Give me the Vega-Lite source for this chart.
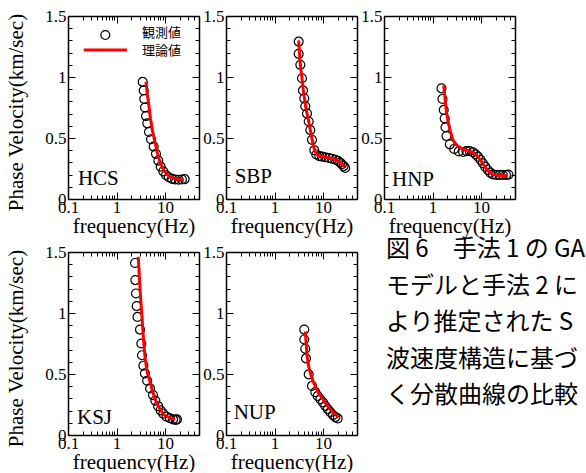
{
  "$schema": "https://vega.github.io/schema/vega-lite/v6.json",
  "padding": {"left": 5, "top": 7, "right": 0, "bottom": 0},
  "autosize": {"type": "pad"},
  "bounds": "flush",
  "columns": 3,
  "spacing": {"row": 53, "column": 27},
  "config": {
    "view": {"stroke": null},
    "axis": {
      "labelFont": "Liberation Serif", "labelFontSize": 17, "labelColor": "black",
      "titleFont": "Liberation Serif", "titleFontSize": 21, "titleFontWeight": "normal", "titleColor": "black",
      "domainColor": "black", "domainWidth": 1.5, "tickColor": "black", "tickWidth": 1,
      "grid": false, "labelFlush": false, "labelOverlap": false
    }
  },
  "datasets": {
    "obs": [
      {"site": "HCS", "f": 3.46, "v": 0.96}, {"site": "HCS", "f": 3.63, "v": 0.89}, {"site": "HCS", "f": 3.73, "v": 0.82}, {"site": "HCS", "f": 3.86, "v": 0.75}, {"site": "HCS", "f": 4.05, "v": 0.68}, {"site": "HCS", "f": 4.3, "v": 0.62}, {"site": "HCS", "f": 4.67, "v": 0.55}, {"site": "HCS", "f": 5.13, "v": 0.49}, {"site": "HCS", "f": 5.83, "v": 0.43}, {"site": "HCS", "f": 6.5, "v": 0.37}, {"site": "HCS", "f": 7.25, "v": 0.315}, {"site": "HCS", "f": 8.12, "v": 0.265}, {"site": "HCS", "f": 9.19, "v": 0.227}, {"site": "HCS", "f": 10.4, "v": 0.197}, {"site": "HCS", "f": 11.9, "v": 0.178}, {"site": "HCS", "f": 13.9, "v": 0.165}, {"site": "HCS", "f": 16.2, "v": 0.16}, {"site": "HCS", "f": 19.1, "v": 0.158}, {"site": "HCS", "f": 22.3, "v": 0.16}, {"site": "HCS", "f": 25.4, "v": 0.163},
      {"site": "SBP", "f": 3.14, "v": 1.29}, {"site": "SBP", "f": 3.14, "v": 1.19}, {"site": "SBP", "f": 3.4, "v": 1.1}, {"site": "SBP", "f": 3.68, "v": 0.99}, {"site": "SBP", "f": 3.86, "v": 0.89}, {"site": "SBP", "f": 4.1, "v": 0.825}, {"site": "SBP", "f": 4.3, "v": 0.76}, {"site": "SBP", "f": 4.67, "v": 0.7}, {"site": "SBP", "f": 5.06, "v": 0.635}, {"site": "SBP", "f": 5.46, "v": 0.565}, {"site": "SBP", "f": 5.91, "v": 0.485}, {"site": "SBP", "f": 6.59, "v": 0.4}, {"site": "SBP", "f": 7.26, "v": 0.365}, {"site": "SBP", "f": 8.36, "v": 0.352}, {"site": "SBP", "f": 9.5, "v": 0.347}, {"site": "SBP", "f": 11.1, "v": 0.342}, {"site": "SBP", "f": 13.1, "v": 0.336}, {"site": "SBP", "f": 15.3, "v": 0.33}, {"site": "SBP", "f": 17.9, "v": 0.322}, {"site": "SBP", "f": 20.3, "v": 0.312}, {"site": "SBP", "f": 22.6, "v": 0.298}, {"site": "SBP", "f": 24.5, "v": 0.285}, {"site": "SBP", "f": 26.5, "v": 0.27}, {"site": "SBP", "f": 28.5, "v": 0.255},
      {"site": "HNP", "f": 1.53, "v": 0.907}, {"site": "HNP", "f": 1.6, "v": 0.82}, {"site": "HNP", "f": 1.7, "v": 0.73}, {"site": "HNP", "f": 1.78, "v": 0.66}, {"site": "HNP", "f": 1.85, "v": 0.588}, {"site": "HNP", "f": 1.94, "v": 0.516}, {"site": "HNP", "f": 2.27, "v": 0.448}, {"site": "HNP", "f": 2.79, "v": 0.41}, {"site": "HNP", "f": 3.47, "v": 0.39}, {"site": "HNP", "f": 4.27, "v": 0.385}, {"site": "HNP", "f": 4.98, "v": 0.393}, {"site": "HNP", "f": 5.82, "v": 0.393}, {"site": "HNP", "f": 6.83, "v": 0.383}, {"site": "HNP", "f": 7.72, "v": 0.366}, {"site": "HNP", "f": 8.64, "v": 0.347}, {"site": "HNP", "f": 9.77, "v": 0.32}, {"site": "HNP", "f": 10.9, "v": 0.293}, {"site": "HNP", "f": 12.2, "v": 0.265}, {"site": "HNP", "f": 13.8, "v": 0.238}, {"site": "HNP", "f": 15.4, "v": 0.216}, {"site": "HNP", "f": 17.5, "v": 0.202}, {"site": "HNP", "f": 20.5, "v": 0.197}, {"site": "HNP", "f": 23.9, "v": 0.197}, {"site": "HNP", "f": 28, "v": 0.197}, {"site": "HNP", "f": 32.7, "v": 0.197}, {"site": "HNP", "f": 36.5, "v": 0.2},
      {"site": "KSJ", "f": 2.4, "v": 1.41}, {"site": "KSJ", "f": 2.44, "v": 1.27}, {"site": "KSJ", "f": 2.52, "v": 1.16}, {"site": "KSJ", "f": 2.6, "v": 1.057}, {"site": "KSJ", "f": 2.7, "v": 0.968}, {"site": "KSJ", "f": 3.04, "v": 0.864}, {"site": "KSJ", "f": 3.24, "v": 0.75}, {"site": "KSJ", "f": 3.34, "v": 0.654}, {"site": "KSJ", "f": 3.57, "v": 0.568}, {"site": "KSJ", "f": 3.85, "v": 0.505}, {"site": "KSJ", "f": 4.27, "v": 0.445}, {"site": "KSJ", "f": 4.9, "v": 0.382}, {"site": "KSJ", "f": 5.65, "v": 0.327}, {"site": "KSJ", "f": 6.3, "v": 0.282}, {"site": "KSJ", "f": 7.2, "v": 0.236}, {"site": "KSJ", "f": 8.1, "v": 0.202}, {"site": "KSJ", "f": 9.2, "v": 0.175}, {"site": "KSJ", "f": 10.7, "v": 0.15}, {"site": "KSJ", "f": 12.6, "v": 0.137}, {"site": "KSJ", "f": 14.6, "v": 0.128}, {"site": "KSJ", "f": 16.5, "v": 0.124}, {"site": "KSJ", "f": 17.6, "v": 0.128},
      {"site": "NUP", "f": 4.1, "v": 0.864}, {"site": "NUP", "f": 4.1, "v": 0.783}, {"site": "NUP", "f": 4.3, "v": 0.707}, {"site": "NUP", "f": 4.45, "v": 0.628}, {"site": "NUP", "f": 5.06, "v": 0.497}, {"site": "NUP", "f": 5.91, "v": 0.402}, {"site": "NUP", "f": 6.92, "v": 0.351}, {"site": "NUP", "f": 7.74, "v": 0.32}, {"site": "NUP", "f": 8.77, "v": 0.293}, {"site": "NUP", "f": 9.96, "v": 0.267}, {"site": "NUP", "f": 11.1, "v": 0.239}, {"site": "NUP", "f": 12.5, "v": 0.212}, {"site": "NUP", "f": 14.1, "v": 0.187}, {"site": "NUP", "f": 16, "v": 0.163}, {"site": "NUP", "f": 17.9, "v": 0.147}, {"site": "NUP", "f": 20, "v": 0.136}
    ],
    "theory": [
      {"site": "HCS", "f": 4.05, "v": 0.96}, {"site": "HCS", "f": 4.3, "v": 0.86}, {"site": "HCS", "f": 4.6, "v": 0.78}, {"site": "HCS", "f": 5.0, "v": 0.66}, {"site": "HCS", "f": 5.5, "v": 0.56}, {"site": "HCS", "f": 6.0, "v": 0.49}, {"site": "HCS", "f": 6.5, "v": 0.43}, {"site": "HCS", "f": 7.0, "v": 0.37}, {"site": "HCS", "f": 7.5, "v": 0.33}, {"site": "HCS", "f": 8.0, "v": 0.3}, {"site": "HCS", "f": 9.0, "v": 0.25}, {"site": "HCS", "f": 10, "v": 0.22}, {"site": "HCS", "f": 11, "v": 0.2}, {"site": "HCS", "f": 12, "v": 0.19}, {"site": "HCS", "f": 14, "v": 0.175}, {"site": "HCS", "f": 17, "v": 0.165}, {"site": "HCS", "f": 20, "v": 0.16}, {"site": "HCS", "f": 23, "v": 0.158},
      {"site": "SBP", "f": 3.14, "v": 1.3}, {"site": "SBP", "f": 3.4, "v": 1.1}, {"site": "SBP", "f": 3.7, "v": 0.98}, {"site": "SBP", "f": 4.0, "v": 0.86}, {"site": "SBP", "f": 4.5, "v": 0.73}, {"site": "SBP", "f": 5.0, "v": 0.645}, {"site": "SBP", "f": 5.5, "v": 0.56}, {"site": "SBP", "f": 6.0, "v": 0.48}, {"site": "SBP", "f": 6.5, "v": 0.42}, {"site": "SBP", "f": 7.0, "v": 0.38}, {"site": "SBP", "f": 7.5, "v": 0.365}, {"site": "SBP", "f": 8.5, "v": 0.354}, {"site": "SBP", "f": 10, "v": 0.347}, {"site": "SBP", "f": 13, "v": 0.338}, {"site": "SBP", "f": 16, "v": 0.33}, {"site": "SBP", "f": 19, "v": 0.32}, {"site": "SBP", "f": 22, "v": 0.3}, {"site": "SBP", "f": 25, "v": 0.285}, {"site": "SBP", "f": 28, "v": 0.262},
      {"site": "HNP", "f": 1.7, "v": 0.93}, {"site": "HNP", "f": 1.8, "v": 0.83}, {"site": "HNP", "f": 1.94, "v": 0.71}, {"site": "HNP", "f": 2.1, "v": 0.63}, {"site": "HNP", "f": 2.27, "v": 0.57}, {"site": "HNP", "f": 2.6, "v": 0.49}, {"site": "HNP", "f": 3.0, "v": 0.45}, {"site": "HNP", "f": 3.4, "v": 0.43}, {"site": "HNP", "f": 4.0, "v": 0.415}, {"site": "HNP", "f": 5.0, "v": 0.4}, {"site": "HNP", "f": 6.3, "v": 0.385}, {"site": "HNP", "f": 8.0, "v": 0.36}, {"site": "HNP", "f": 9.0, "v": 0.335}, {"site": "HNP", "f": 10.1, "v": 0.31}, {"site": "HNP", "f": 11.5, "v": 0.275}, {"site": "HNP", "f": 12.8, "v": 0.25}, {"site": "HNP", "f": 14.5, "v": 0.225}, {"site": "HNP", "f": 16.2, "v": 0.21}, {"site": "HNP", "f": 19, "v": 0.2}, {"site": "HNP", "f": 22, "v": 0.195}, {"site": "HNP", "f": 28, "v": 0.192}, {"site": "HNP", "f": 36, "v": 0.19},
      {"site": "KSJ", "f": 2.8, "v": 1.46}, {"site": "KSJ", "f": 2.95, "v": 1.3}, {"site": "KSJ", "f": 3.1, "v": 1.15}, {"site": "KSJ", "f": 3.34, "v": 0.97}, {"site": "KSJ", "f": 3.6, "v": 0.78}, {"site": "KSJ", "f": 3.9, "v": 0.62}, {"site": "KSJ", "f": 4.3, "v": 0.51}, {"site": "KSJ", "f": 4.96, "v": 0.43}, {"site": "KSJ", "f": 5.5, "v": 0.36}, {"site": "KSJ", "f": 6.3, "v": 0.29}, {"site": "KSJ", "f": 7.2, "v": 0.235}, {"site": "KSJ", "f": 8.7, "v": 0.185}, {"site": "KSJ", "f": 10, "v": 0.16}, {"site": "KSJ", "f": 11.9, "v": 0.144}, {"site": "KSJ", "f": 14, "v": 0.135}, {"site": "KSJ", "f": 16.2, "v": 0.13},
      {"site": "NUP", "f": 4.3, "v": 0.85}, {"site": "NUP", "f": 4.67, "v": 0.65}, {"site": "NUP", "f": 5.0, "v": 0.57}, {"site": "NUP", "f": 5.46, "v": 0.51}, {"site": "NUP", "f": 6.2, "v": 0.44}, {"site": "NUP", "f": 6.92, "v": 0.4}, {"site": "NUP", "f": 8.0, "v": 0.345}, {"site": "NUP", "f": 9.5, "v": 0.305}, {"site": "NUP", "f": 11, "v": 0.265}, {"site": "NUP", "f": 13.1, "v": 0.226}, {"site": "NUP", "f": 15.5, "v": 0.195}, {"site": "NUP", "f": 17.9, "v": 0.171}, {"site": "NUP", "f": 20.9, "v": 0.144}
    ],
    "caption": [
      {"line": 0, "text": "図 6　手法 1 の GA"},
      {"line": 1, "text": "モデルと手法 2 に"},
      {"line": 2, "text": "より推定された S"},
      {"line": 3, "text": "波速度構造に基づ"},
      {"line": 4, "text": "く分散曲線の比較"}
    ]
  },
  "concat": [
    {
      "width": 131, "height": 183,
      "resolve": {"axis": {"x": "independent", "y": "independent"}},
      "layer": [
        {
          "data": {"name": "obs"},
          "transform": [{"filter": "datum.site === 'HCS'"}],
          "mark": {"type": "point", "shape": "circle", "filled": false, "color": "black", "strokeWidth": 1.2, "size": 80, "opacity": 1},
          "encoding": {
            "x": {"field": "f", "type": "quantitative", "scale": {"type": "log", "domain": [0.1, 50], "nice": false},
              "axis": {"orient": "top", "values": [0.1,0.2,0.3,0.4,0.5,0.6,0.7,0.8,0.9,1,2,3,4,5,6,7,8,9,10,20,30,40,50], "tickSize": {"condition": {"test": "datum.value == 0.1 || datum.value == 1 || datum.value == 10", "value": -7}, "value": -4}, "labels": false, "title": null}},
            "y": {"field": "v", "type": "quantitative", "scale": {"domain": [0, 1.5], "nice": false},
              "axis": {"orient": "right", "values": [0,0.1,0.2,0.3,0.4,0.5,0.6,0.7,0.8,0.9,1,1.1,1.2,1.3,1.4,1.5], "tickSize": {"condition": {"test": "datum.value == 0 || datum.value == 0.5 || datum.value == 1 || datum.value == 1.5", "value": -7}, "value": -4}, "labels": false, "title": null}}
          }
        },
        {
          "data": {"name": "theory"},
          "transform": [{"filter": "datum.site === 'HCS'"}],
          "mark": {"type": "line", "color": "#ff0000", "strokeWidth": 3},
          "encoding": {
            "x": {"field": "f", "type": "quantitative",
              "axis": {"orient": "bottom", "values": [0.1,0.2,0.3,0.4,0.5,0.6,0.7,0.8,0.9,1,2,3,4,5,6,7,8,9,10,20,30,40,50], "tickSize": {"condition": {"test": "datum.value == 0.1 || datum.value == 1 || datum.value == 10", "value": -7}, "value": -4}, "labelExpr": "datum.value == 0.1 ? '0.1' : datum.value == 1 ? '1' : datum.value == 10 ? '10' : ''", "labelPadding": 7, "title": "frequency(Hz)", "titlePadding": -3}},
            "y": {"field": "v", "type": "quantitative",
              "axis": {"orient": "left", "values": [0,0.1,0.2,0.3,0.4,0.5,0.6,0.7,0.8,0.9,1,1.1,1.2,1.3,1.4,1.5], "tickSize": {"condition": {"test": "datum.value == 0 || datum.value == 0.5 || datum.value == 1 || datum.value == 1.5", "value": -7}, "value": -4}, "labelExpr": "datum.value == 0 ? '0' : datum.value == 0.5 ? '0.5' : datum.value == 1 ? '1' : datum.value == 1.5 ? '1.5' : ''", "labelPadding": 9, "title": "Phase Velocity(km/sec)", "titlePadding": 18, "titleY": 96}}
          }
        },
        {
          "data": {"values": [{"label": "HCS"}]},
          "mark": {"type": "text", "font": "Liberation Serif", "fontSize": 21, "align": "left", "baseline": "alphabetic", "color": "black"},
          "encoding": {
            "x": {"datum": 0.16, "type": "quantitative", "axis": null},
            "y": {"datum": 0.115, "type": "quantitative", "axis": null},
            "text": {"field": "label"}
          }
        },
        {
          "data": {"values": [{"label": "観測値"}]},
          "mark": {"type": "point", "shape": "circle", "filled": false, "color": "black", "strokeWidth": 1.2, "size": 80, "opacity": 1},
          "encoding": {
            "x": {"datum": 0.587, "type": "quantitative", "axis": null},
            "y": {"datum": 1.344, "type": "quantitative", "axis": null}
          }
        },
        {
          "data": {"values": [{"label": "理論値"}]},
          "mark": {"type": "rule", "color": "#ff0000", "strokeWidth": 3},
          "encoding": {
            "x": {"datum": 0.211, "type": "quantitative", "axis": null},
            "x2": {"datum": 1.64},
            "y": {"datum": 1.221, "type": "quantitative", "axis": null}
          }
        },
        {
          "data": {"values": [{"label": "観測値"}]},
          "mark": {"type": "text", "font": "Noto Sans CJK JP", "fontSize": 13, "align": "left", "baseline": "middle", "color": "black"},
          "encoding": {
            "x": {"datum": 3.35, "type": "quantitative", "axis": null},
            "y": {"datum": 1.357, "type": "quantitative", "axis": null},
            "text": {"field": "label"}
          }
        },
        {
          "data": {"values": [{"label": "理論値"}]},
          "mark": {"type": "text", "font": "Noto Sans CJK JP", "fontSize": 13, "align": "left", "baseline": "middle", "color": "black"},
          "encoding": {
            "x": {"datum": 3.35, "type": "quantitative", "axis": null},
            "y": {"datum": 1.213, "type": "quantitative", "axis": null},
            "text": {"field": "label"}
          }
        }
      ]
    },
    {
      "width": 131, "height": 183,
      "resolve": {"axis": {"x": "independent", "y": "independent"}},
      "layer": [
        {
          "data": {"name": "obs"},
          "transform": [{"filter": "datum.site === 'SBP'"}],
          "mark": {"type": "point", "shape": "circle", "filled": false, "color": "black", "strokeWidth": 1.2, "size": 80, "opacity": 1},
          "encoding": {
            "x": {"field": "f", "type": "quantitative", "scale": {"type": "log", "domain": [0.1, 50], "nice": false},
              "axis": {"orient": "top", "values": [0.1,0.2,0.3,0.4,0.5,0.6,0.7,0.8,0.9,1,2,3,4,5,6,7,8,9,10,20,30,40,50], "tickSize": {"condition": {"test": "datum.value == 0.1 || datum.value == 1 || datum.value == 10", "value": -7}, "value": -4}, "labels": false, "title": null}},
            "y": {"field": "v", "type": "quantitative", "scale": {"domain": [0, 1.5], "nice": false},
              "axis": {"orient": "right", "values": [0,0.1,0.2,0.3,0.4,0.5,0.6,0.7,0.8,0.9,1,1.1,1.2,1.3,1.4,1.5], "tickSize": {"condition": {"test": "datum.value == 0 || datum.value == 0.5 || datum.value == 1 || datum.value == 1.5", "value": -7}, "value": -4}, "labels": false, "title": null}}
          }
        },
        {
          "data": {"name": "theory"},
          "transform": [{"filter": "datum.site === 'SBP'"}],
          "mark": {"type": "line", "color": "#ff0000", "strokeWidth": 3},
          "encoding": {
            "x": {"field": "f", "type": "quantitative",
              "axis": {"orient": "bottom", "values": [0.1,0.2,0.3,0.4,0.5,0.6,0.7,0.8,0.9,1,2,3,4,5,6,7,8,9,10,20,30,40,50], "tickSize": {"condition": {"test": "datum.value == 0.1 || datum.value == 1 || datum.value == 10", "value": -7}, "value": -4}, "labelExpr": "datum.value == 0.1 ? '0.1' : datum.value == 1 ? '1' : datum.value == 10 ? '10' : ''", "labelPadding": 7, "title": "frequency(Hz)", "titlePadding": -3}},
            "y": {"field": "v", "type": "quantitative",
              "axis": {"orient": "left", "values": [0,0.1,0.2,0.3,0.4,0.5,0.6,0.7,0.8,0.9,1,1.1,1.2,1.3,1.4,1.5], "tickSize": {"condition": {"test": "datum.value == 0 || datum.value == 0.5 || datum.value == 1 || datum.value == 1.5", "value": -7}, "value": -4}, "labelExpr": "datum.value == 0 ? '0' : datum.value == 0.5 ? '0.5' : datum.value == 1 ? '1' : datum.value == 1.5 ? '1.5' : ''", "labelPadding": 9, "title": null}}
          }
        },
        {
          "data": {"values": [{"label": "SBP"}]},
          "mark": {"type": "text", "font": "Liberation Serif", "fontSize": 21, "align": "left", "baseline": "alphabetic", "color": "black"},
          "encoding": {
            "x": {"datum": 0.151, "type": "quantitative", "axis": null},
            "y": {"datum": 0.129, "type": "quantitative", "axis": null},
            "text": {"field": "label"}
          }
        }
      ]
    },
    {
      "width": 131, "height": 183,
      "resolve": {"axis": {"x": "independent", "y": "independent"}},
      "layer": [
        {
          "data": {"name": "obs"},
          "transform": [{"filter": "datum.site === 'HNP'"}],
          "mark": {"type": "point", "shape": "circle", "filled": false, "color": "black", "strokeWidth": 1.2, "size": 80, "opacity": 1},
          "encoding": {
            "x": {"field": "f", "type": "quantitative", "scale": {"type": "log", "domain": [0.1, 50], "nice": false},
              "axis": {"orient": "top", "values": [0.1,0.2,0.3,0.4,0.5,0.6,0.7,0.8,0.9,1,2,3,4,5,6,7,8,9,10,20,30,40,50], "tickSize": {"condition": {"test": "datum.value == 0.1 || datum.value == 1 || datum.value == 10", "value": -7}, "value": -4}, "labels": false, "title": null}},
            "y": {"field": "v", "type": "quantitative", "scale": {"domain": [0, 1.5], "nice": false},
              "axis": {"orient": "right", "values": [0,0.1,0.2,0.3,0.4,0.5,0.6,0.7,0.8,0.9,1,1.1,1.2,1.3,1.4,1.5], "tickSize": {"condition": {"test": "datum.value == 0 || datum.value == 0.5 || datum.value == 1 || datum.value == 1.5", "value": -7}, "value": -4}, "labels": false, "title": null}}
          }
        },
        {
          "data": {"name": "theory"},
          "transform": [{"filter": "datum.site === 'HNP'"}],
          "mark": {"type": "line", "color": "#ff0000", "strokeWidth": 3},
          "encoding": {
            "x": {"field": "f", "type": "quantitative",
              "axis": {"orient": "bottom", "values": [0.1,0.2,0.3,0.4,0.5,0.6,0.7,0.8,0.9,1,2,3,4,5,6,7,8,9,10,20,30,40,50], "tickSize": {"condition": {"test": "datum.value == 0.1 || datum.value == 1 || datum.value == 10", "value": -7}, "value": -4}, "labelExpr": "datum.value == 0.1 ? '0.1' : datum.value == 1 ? '1' : datum.value == 10 ? '10' : ''", "labelPadding": 7, "title": "frequency(Hz)", "titlePadding": -3}},
            "y": {"field": "v", "type": "quantitative",
              "axis": {"orient": "left", "values": [0,0.1,0.2,0.3,0.4,0.5,0.6,0.7,0.8,0.9,1,1.1,1.2,1.3,1.4,1.5], "tickSize": {"condition": {"test": "datum.value == 0 || datum.value == 0.5 || datum.value == 1 || datum.value == 1.5", "value": -7}, "value": -4}, "labelExpr": "datum.value == 0 ? '0' : datum.value == 0.5 ? '0.5' : datum.value == 1 ? '1' : datum.value == 1.5 ? '1.5' : ''", "labelPadding": 9, "title": null}}
          }
        },
        {
          "data": {"values": [{"label": "HNP"}]},
          "mark": {"type": "text", "font": "Liberation Serif", "fontSize": 21, "align": "left", "baseline": "alphabetic", "color": "black"},
          "encoding": {
            "x": {"datum": 0.146, "type": "quantitative", "axis": null},
            "y": {"datum": 0.107, "type": "quantitative", "axis": null},
            "text": {"field": "label"}
          }
        }
      ]
    },
    {
      "width": 131, "height": 183,
      "resolve": {"axis": {"x": "independent", "y": "independent"}},
      "layer": [
        {
          "data": {"name": "obs"},
          "transform": [{"filter": "datum.site === 'KSJ'"}],
          "mark": {"type": "point", "shape": "circle", "filled": false, "color": "black", "strokeWidth": 1.2, "size": 80, "opacity": 1},
          "encoding": {
            "x": {"field": "f", "type": "quantitative", "scale": {"type": "log", "domain": [0.1, 50], "nice": false},
              "axis": {"orient": "top", "values": [0.1,0.2,0.3,0.4,0.5,0.6,0.7,0.8,0.9,1,2,3,4,5,6,7,8,9,10,20,30,40,50], "tickSize": {"condition": {"test": "datum.value == 0.1 || datum.value == 1 || datum.value == 10", "value": -7}, "value": -4}, "labels": false, "title": null}},
            "y": {"field": "v", "type": "quantitative", "scale": {"domain": [0, 1.5], "nice": false},
              "axis": {"orient": "right", "values": [0,0.1,0.2,0.3,0.4,0.5,0.6,0.7,0.8,0.9,1,1.1,1.2,1.3,1.4,1.5], "tickSize": {"condition": {"test": "datum.value == 0 || datum.value == 0.5 || datum.value == 1 || datum.value == 1.5", "value": -7}, "value": -4}, "labels": false, "title": null}}
          }
        },
        {
          "data": {"name": "theory"},
          "transform": [{"filter": "datum.site === 'KSJ'"}],
          "mark": {"type": "line", "color": "#ff0000", "strokeWidth": 3},
          "encoding": {
            "x": {"field": "f", "type": "quantitative",
              "axis": {"orient": "bottom", "values": [0.1,0.2,0.3,0.4,0.5,0.6,0.7,0.8,0.9,1,2,3,4,5,6,7,8,9,10,20,30,40,50], "tickSize": {"condition": {"test": "datum.value == 0.1 || datum.value == 1 || datum.value == 10", "value": -7}, "value": -4}, "labelExpr": "datum.value == 0.1 ? '0.1' : datum.value == 1 ? '1' : datum.value == 10 ? '10' : ''", "labelPadding": 7, "title": "frequency(Hz)", "titlePadding": -3}},
            "y": {"field": "v", "type": "quantitative",
              "axis": {"orient": "left", "values": [0,0.1,0.2,0.3,0.4,0.5,0.6,0.7,0.8,0.9,1,1.1,1.2,1.3,1.4,1.5], "tickSize": {"condition": {"test": "datum.value == 0 || datum.value == 0.5 || datum.value == 1 || datum.value == 1.5", "value": -7}, "value": -4}, "labelExpr": "datum.value == 0 ? '0' : datum.value == 0.5 ? '0.5' : datum.value == 1 ? '1' : datum.value == 1.5 ? '1.5' : ''", "labelPadding": 9, "title": "Phase Velocity(km/sec)", "titlePadding": 18, "titleY": 96}}
          }
        },
        {
          "data": {"values": [{"label": "KSJ"}]},
          "mark": {"type": "text", "font": "Liberation Serif", "fontSize": 21, "align": "left", "baseline": "alphabetic", "color": "black"},
          "encoding": {
            "x": {"datum": 0.153, "type": "quantitative", "axis": null},
            "y": {"datum": 0.09, "type": "quantitative", "axis": null},
            "text": {"field": "label"}
          }
        }
      ]
    },
    {
      "width": 131, "height": 183,
      "resolve": {"axis": {"x": "independent", "y": "independent"}},
      "layer": [
        {
          "data": {"name": "obs"},
          "transform": [{"filter": "datum.site === 'NUP'"}],
          "mark": {"type": "point", "shape": "circle", "filled": false, "color": "black", "strokeWidth": 1.2, "size": 80, "opacity": 1},
          "encoding": {
            "x": {"field": "f", "type": "quantitative", "scale": {"type": "log", "domain": [0.1, 50], "nice": false},
              "axis": {"orient": "top", "values": [0.1,0.2,0.3,0.4,0.5,0.6,0.7,0.8,0.9,1,2,3,4,5,6,7,8,9,10,20,30,40,50], "tickSize": {"condition": {"test": "datum.value == 0.1 || datum.value == 1 || datum.value == 10", "value": -7}, "value": -4}, "labels": false, "title": null}},
            "y": {"field": "v", "type": "quantitative", "scale": {"domain": [0, 1.5], "nice": false},
              "axis": {"orient": "right", "values": [0,0.1,0.2,0.3,0.4,0.5,0.6,0.7,0.8,0.9,1,1.1,1.2,1.3,1.4,1.5], "tickSize": {"condition": {"test": "datum.value == 0 || datum.value == 0.5 || datum.value == 1 || datum.value == 1.5", "value": -7}, "value": -4}, "labels": false, "title": null}}
          }
        },
        {
          "data": {"name": "theory"},
          "transform": [{"filter": "datum.site === 'NUP'"}],
          "mark": {"type": "line", "color": "#ff0000", "strokeWidth": 3},
          "encoding": {
            "x": {"field": "f", "type": "quantitative",
              "axis": {"orient": "bottom", "values": [0.1,0.2,0.3,0.4,0.5,0.6,0.7,0.8,0.9,1,2,3,4,5,6,7,8,9,10,20,30,40,50], "tickSize": {"condition": {"test": "datum.value == 0.1 || datum.value == 1 || datum.value == 10", "value": -7}, "value": -4}, "labelExpr": "datum.value == 0.1 ? '0.1' : datum.value == 1 ? '1' : datum.value == 10 ? '10' : ''", "labelPadding": 7, "title": "frequency(Hz)", "titlePadding": -3}},
            "y": {"field": "v", "type": "quantitative",
              "axis": {"orient": "left", "values": [0,0.1,0.2,0.3,0.4,0.5,0.6,0.7,0.8,0.9,1,1.1,1.2,1.3,1.4,1.5], "tickSize": {"condition": {"test": "datum.value == 0 || datum.value == 0.5 || datum.value == 1 || datum.value == 1.5", "value": -7}, "value": -4}, "labelExpr": "datum.value == 0 ? '0' : datum.value == 0.5 ? '0.5' : datum.value == 1 ? '1' : datum.value == 1.5 ? '1.5' : ''", "labelPadding": 9, "title": null}}
          }
        },
        {
          "data": {"values": [{"label": "NUP"}]},
          "mark": {"type": "text", "font": "Liberation Serif", "fontSize": 21, "align": "left", "baseline": "alphabetic", "color": "black"},
          "encoding": {
            "x": {"datum": 0.144, "type": "quantitative", "axis": null},
            "y": {"datum": 0.13, "type": "quantitative", "axis": null},
            "text": {"field": "label"}
          }
        }
      ]
    },
    {
      "width": 131, "height": 183,
      "data": {"name": "caption"},
      "mark": {"type": "text", "font": "Noto Sans CJK JP", "fontSize": 24, "align": "left", "baseline": "middle", "color": "black"},
      "encoding": {
        "x": {"datum": 0, "type": "quantitative", "scale": {"domain": [-0.015, 0.985]}, "axis": null},
        "y": {"field": "line", "type": "quantitative", "scale": {"domain": [0.055, 5.055], "reverse": true, "nice": false, "zero": false}, "axis": null},
        "text": {"field": "text"}
      }
    }
  ]
}
